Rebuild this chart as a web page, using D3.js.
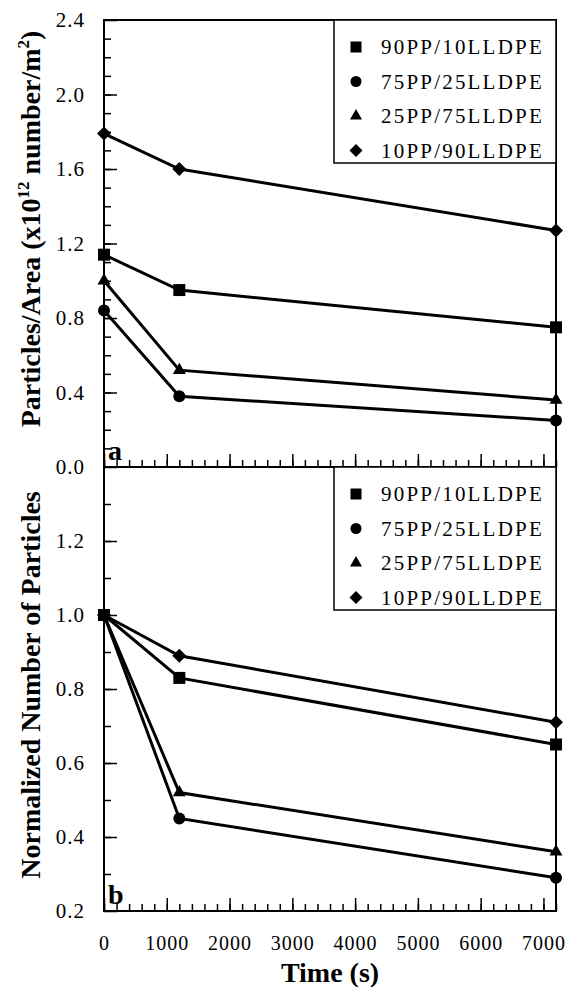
<!DOCTYPE html>
<html>
<head>
<meta charset="utf-8">
<script src="https://cdn.jsdelivr.net/npm/d3@7"></script>
<style>
body { margin: 0; background: #fff; }
text { font-family: "Liberation Serif", "Times New Roman", serif; fill: #000; }
</style>
</head>
<body>
<svg id="chart" width="570" height="987"></svg>
<script>
// data
var times = [0, 1200, 7200];
var seriesNames = ["90PP/10LLDPE", "75PP/25LLDPE", "25PP/75LLDPE", "10PP/90LLDPE"];
var seriesSymbols = ["square", "circle", "triangle", "diamond"];

// panel a : particles / area (x10^12 number/m^2)
var areaPP90 = [1.14, 0.95, 0.75];
var areaPP75 = [0.84, 0.38, 0.25];
var areaPP25 = [1.00, 0.52, 0.36];
var areaPP10 = [1.79, 1.60, 1.27];

// panel b : normalized number of particles
var normPP90 = [1.00, 0.83, 0.65];
var normPP75 = [1.00, 0.45, 0.29];
var normPP25 = [1.00, 0.52, 0.36];
var normPP10 = [1.00, 0.89, 0.71];

var xTicks = [0, 1000, 2000, 3000, 4000, 5000, 6000, 7000];
var yTicksA = [0.0, 0.4, 0.8, 1.2, 1.6, 2.0, 2.4];
var yTicksB = [0.2, 0.4, 0.6, 0.8, 1.0, 1.2];

var svg = d3.select("#chart");

var left = 104, right = 556;
var x = d3.scaleLinear().domain([0, 7200]).range([left, right]);
var yA = d3.scaleLinear().domain([0, 2.4]).range([467, 20]);
var yB = d3.scaleLinear().domain([0.2, 1.4]).range([911, 467]);

function symbolPath (type, size) {
	if (type == "square") return d3.symbol(d3.symbolSquare, size * size)();
	if (type == "circle") return d3.symbol(d3.symbolCircle, Math.PI * size * size / 4)();
	if (type == "triangle") return d3.symbol(d3.symbolTriangle, size * size * Math.sqrt(3) / 4)();
	// diamond = square turned 45 degrees
	return d3.symbol(d3.symbolSquare, size * size / 2)();
}

function drawPanel (y, yTicks, yMinor, series, withXLabels, letter) {
	var g = svg.append("g");
	var top = y.range()[1], bottom = y.range()[0];

	// minor ticks
	g.append("g")
		.attr("transform", "translate(" + left + ",0)")
		.call(d3.axisLeft(y).tickValues(yMinor).tickSize(-7).tickFormat(""))
		.call(function (s) { s.select(".domain").remove(); });
	g.append("g")
		.attr("transform", "translate(0," + bottom + ")")
		.call(d3.axisBottom(x).tickValues(d3.range(0, 7201, 200)).tickSize(-7).tickFormat(""))
		.call(function (s) { s.select(".domain").remove(); });

	// major ticks + labels
	var ay = g.append("g")
		.attr("transform", "translate(" + left + ",0)")
		.call(d3.axisLeft(y).tickValues(yTicks).tickSize(-13).tickPadding(19).tickFormat(d3.format(".1f")));
	ay.select(".domain").remove();
	ay.selectAll("text").style("font-size", "21px").style("letter-spacing", "1px")
		.style("font-family", "Liberation Serif");

	var ax = g.append("g")
		.attr("transform", "translate(0," + bottom + ")")
		.call(d3.axisBottom(x).tickValues(xTicks).tickSize(-13).tickPadding(25)
			.tickFormat(withXLabels ? d3.format("d") : ""));
	ax.select(".domain").remove();
	ax.selectAll("text").style("font-size", "20px").style("letter-spacing", "1px")
		.style("font-family", "Liberation Serif");

	g.selectAll(".tick line").attr("stroke", "#000").attr("stroke-width", 1.5);

	// frame
	g.append("rect")
		.attr("x", left).attr("y", top)
		.attr("width", right - left).attr("height", bottom - top)
		.attr("fill", "none").attr("stroke", "#000").attr("stroke-width", 2);

	var line = d3.line().x(function (d, i) { return x(times[i]); }).y(function (d) { return y(d); });

	for (var k = 0; k < series.length; ++k) {
		g.append("path")
			.attr("d", line(series[k]))
			.attr("fill", "none")
			.attr("stroke", "#000")
			.attr("stroke-width", 3);
	}
	for (var k = 0; k < series.length; ++k) {
		var sz = seriesSymbols[k] == "diamond" ? 14 : (seriesSymbols[k] == "triangle" ? 13 : 12);
		g.selectAll(".pt" + k)
			.data(series[k])
			.enter().append("path")
			.attr("d", symbolPath(seriesSymbols[k], sz))
			.attr("transform", function (d, i) {
				return "translate(" + x(times[i]) + "," + y(d) + ")" + (seriesSymbols[k] == "diamond" ? " rotate(45)" : "");
			})
			.attr("fill", "#000");
	}

	// legend
	var lx = 334, ly = top, lw = right - lx, lh = 143;
	g.append("rect")
		.attr("x", lx).attr("y", ly).attr("width", lw).attr("height", lh)
		.attr("fill", "#fff").attr("stroke", "#000").attr("stroke-width", 1.5);
	for (var k = 0; k < seriesNames.length; ++k) {
		var ry = ly + 27 + k * 34.5;
		var sz = seriesSymbols[k] == "diamond" ? 13 : (seriesSymbols[k] == "triangle" ? 12 : 11);
		g.append("path")
			.attr("d", symbolPath(seriesSymbols[k], sz))
			.attr("transform", "translate(356," + ry + ")" + (seriesSymbols[k] == "diamond" ? " rotate(45)" : ""))
			.attr("fill", "#000");
		g.append("text")
			.attr("x", 381).attr("y", ry + 7)
			.style("font-size", "21px")
			.style("letter-spacing", "2.2px")
			.text(seriesNames[k]);
	}

	// panel letter
	g.append("text")
		.attr("x", 108).attr("y", bottom - 7)
		.style("font-size", "28px").style("font-weight", "bold")
		.text(letter);
}

drawPanel(yA, yTicksA, d3.range(0.1, 2.4, 0.1), [areaPP90, areaPP75, areaPP25, areaPP10], false, "a");
drawPanel(yB, yTicksB, d3.range(0.3, 1.4, 0.1), [normPP90, normPP75, normPP25, normPP10], true, "b");

// axis titles
var tA = svg.append("text")
	.attr("transform", "translate(40,229) rotate(-90)")
	.attr("text-anchor", "middle")
	.style("font-size", "28px").style("font-weight", "bold");
tA.append("tspan").text("Particles/Area (x10");
tA.append("tspan").attr("dy", -11).style("font-size", "17px").text("12");
tA.append("tspan").attr("dy", 11).text(" number/m");
tA.append("tspan").attr("dy", -11).style("font-size", "17px").text("2");
tA.append("tspan").attr("dy", 11).text(")");

svg.append("text")
	.attr("transform", "translate(40,685) rotate(-90)")
	.attr("text-anchor", "middle")
	.style("font-size", "28px").style("font-weight", "bold")
	.text("Normalized Number of Particles");

svg.append("text")
	.attr("x", (left + right) / 2).attr("y", 982)
	.attr("text-anchor", "middle")
	.style("font-size", "28px").style("font-weight", "bold")
	.text("Time (s)");
</script>
</body>
</html>
